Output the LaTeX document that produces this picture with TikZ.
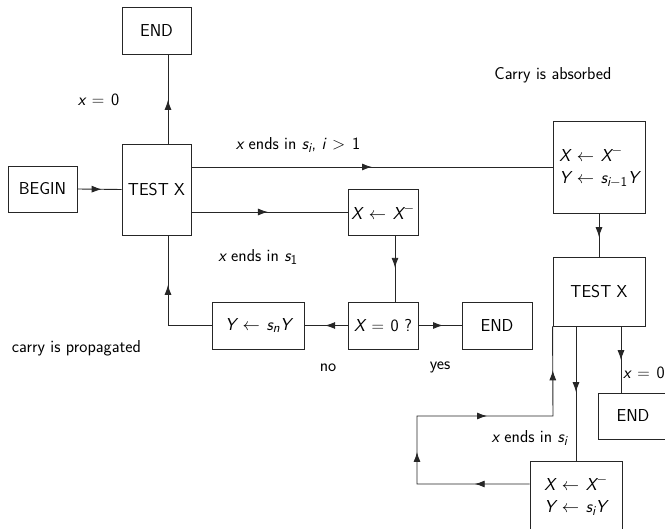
\RequirePackage{fix-cm}
\documentclass[tikz,border=0pt]{standalone}
\usepackage{amsmath}
\usetikzlibrary{arrows.meta,decorations.markings}
\DeclareMathSizes{17.28}{17.28}{13.5}{10}
\newcommand\mv[1]{\text{\sffamily\slshape #1}}
\newcommand\mn[1]{\text{\sffamily\upshape #1}}
\thickmuskip=7mu plus 2mu
\tikzset{
  box/.style={draw=black!85, line width=0.9pt, inner sep=1pt, align=center},
  conn/.style={draw=black!85, line width=0.9pt},
  lab/.style={inner sep=0pt},
  tp/.tip={Latex[length=10pt,width=7pt]},
  tipat/.style={postaction={decorate},decoration={markings,mark=at position #1 with {\arrow{tp}}}},
  tipsfour/.style={postaction={decorate},decoration={markings,
    mark=at position 0.135 with {\arrow{tp}},
    mark=at position 0.356 with {\arrow{tp}},
    mark=at position 0.617 with {\arrow{tp}},
    mark=at position 0.892 with {\arrow{tp}}}}
}
\begin{document}
\begin{tikzpicture}[x=1pt,y=-1pt,font=\sffamily\LARGE]
\clip (0,0) rectangle (665,529);
% nodes
\node[box, minimum width=69pt, minimum height=46pt] (begin) at (42.5,189) {BEGIN};
\node[box, minimum width=69pt, minimum height=91pt] (test1) at (156.5,189.5) {TEST X};
\node[box, minimum width=69pt, minimum height=47pt] (end1) at (156.5,30.5) {END};
\node[box, minimum width=70pt, minimum height=46pt, inner sep=0pt] (xm) at (383,212) {$\mv{X}\leftarrow\mv{X}^-$};
\node[box, minimum width=70pt, minimum height=47pt, inner sep=0pt] (x0) at (383,325.5) {$\mv{X}=\mn{0}$ ?};
\node[box, minimum width=92pt, minimum height=47pt] (ysn) at (258,325.5) {$\mv{Y}\leftarrow\mv{s}_{\mv{n}}\mv{Y}$};
\node[box, minimum width=70pt, minimum height=47pt] (end2) at (497,325.5) {END};
\node[box, minimum width=92pt, minimum height=92pt, inner sep=0pt, align=left] (absorb) at (599,167) {$\mv{X}\leftarrow\mv{X}^-$\\$\mv{Y}\leftarrow\mv{s}_{\mv{i}-\mn{1}}\mv{Y}$};
\node[box, minimum width=92pt, minimum height=69pt] (test2) at (599,291.5) {TEST X};
\node[box, minimum width=70pt, minimum height=46pt] (end3) at (633,416) {END};
\node[box, minimum width=92pt, minimum height=69pt, align=left] (bot) at (576,495.5) {$\mv{X}\leftarrow\mv{X}^-$\\$\mv{Y}\leftarrow\mv{s}_{\mv{i}}\mv{Y}$};
% helper coordinates
\coordinate (c1) at (168,0);
\coordinate (c2) at (395,0);
\coordinate (c3) at (621,0);
\coordinate (c4) at (417,484);
\coordinate (c5) at (553,416);
% labels
\node[lab] (l1) at (98.5,100) {$\mv{x}=\mn{0}$};
\node[lab] (l2) at (298,145) {$\mv{x}$ ends in $\mv{s}_{\mv{i}}$, $\mv{i}>\mn{1}$};
\node[lab] (l3) at (258,257) {$\mv{x}$ ends in $\mv{s}_{\mn{1}}$};
\node[lab] (l4) at (553,75) {Carry is absorbed};
\node[lab] (l5) at (76.5,348) {carry is propagated};
\node[lab] (l6) at (328,368) {no};
\node[lab] (l7) at (440,367) {yes};
\node[lab, anchor=west] (l8) at (623,373) {$\mv{x}=\mn{0}$};
\node[lab] (l9) at (529.5,438) {$\mv{x}$ ends in $\mv{s}_{\mv{i}}$};
% connectors
\draw[conn, tipat=0.55] (begin.east) -- (test1.west);
\draw[conn, tipat=0.49] (test1.north -| c1) -- (end1.south -| c1);
\draw[conn, tipat=0.5] (test1.east |- absorb) -- (absorb.west);
\draw[conn, tipat=0.49] (test1.east |- xm) -- (xm.west);
\draw[conn, tipat=0.49] (xm.south -| c2) -- (x0.north -| c2);
\draw[conn, tipat=0.52] (x0.west) -- (ysn.east);
\draw[conn, tipat=0.57] (x0.east) -- (end2.west);
\draw[conn, tipat=0.63] (ysn.west) -- (ysn.west -| c1) -- (test1.south -| c1);
\draw[conn, tipat=0.55] (absorb.south) -- (test2.north);
\draw[conn, tipat=0.51] (test2.south -| c3) -- (end3.north -| c3);
\draw[conn, tipat=0.49] (test2.south -| bot.north) -- (bot.north);
\draw[conn, tipsfour] (bot.west |- c4) -- (c4) -- (c4 |- c5) -- (c5) -- (test2.south west);
\end{tikzpicture}
\end{document}
